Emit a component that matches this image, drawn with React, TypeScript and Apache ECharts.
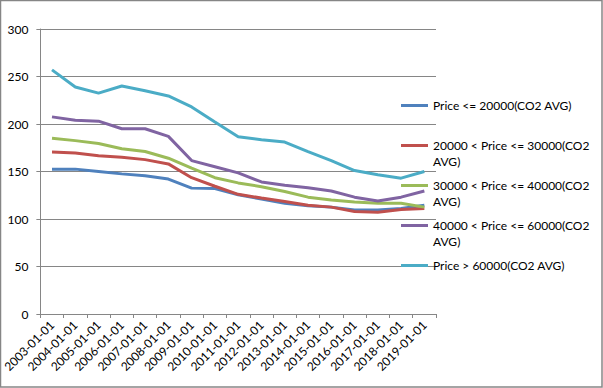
import React, { useEffect, useRef } from "react";
import * as echarts from "echarts";

const categories = [
  "2003-01-01", "2004-01-01", "2005-01-01", "2006-01-01", "2007-01-01", "2008-01-01",
  "2009-01-01", "2010-01-01", "2011-01-01", "2012-01-01", "2013-01-01", "2014-01-01",
  "2015-01-01", "2016-01-01", "2017-01-01", "2018-01-01", "2019-01-01",
];

const seriesNames = [
  "Price <= 20000(CO2 AVG)",
  "20000 < Price <= 30000(CO2 AVG)",
  "30000 < Price <= 40000(CO2 AVG)",
  "40000 < Price <= 60000(CO2 AVG)",
  "Price > 60000(CO2 AVG)",
];

const priceLe20000 = [152.5, 152.5, 150, 147.5, 145.5, 142, 132.5, 132, 125.5, 121, 116.5, 114, 112.5, 109.5, 109.5, 111, 114.5];
const price20to30 = [170.5, 169.5, 166.5, 165, 162.5, 158, 143.5, 134.5, 126, 122, 118.5, 114.5, 112.5, 108, 107, 110, 111];
const price30to40 = [185, 182.5, 179.5, 174, 171, 164, 153.5, 143.5, 138, 134, 129, 123, 120, 118, 116.5, 116.5, 112.5];
const price40to60 = [207.5, 204, 203, 195, 195, 187, 161.5, 155, 148.5, 139, 135.5, 133, 129.5, 123, 119, 123, 129.5];
const priceGt60000 = [257, 239, 232.5, 240, 235, 229.5, 218, 202, 186.5, 183.5, 181, 171, 161.5, 151, 146.5, 143, 150];

const yTicks = { min: 0, max: 300, interval: 50 };

const colors = ["#4F81BD", "#C0504D", "#9BBB59", "#8064A2", "#4BACC6"];

const FONT = "Lato";

export default function App() {
  const ref = useRef<HTMLDivElement>(null);

  useEffect(() => {
    if (!ref.current) return;
    const chart = echarts.init(ref.current, null, { renderer: "svg" });
    const values = [priceLe20000, price20to30, price30to40, price40to60, priceGt60000];
    const firstLine = (name: string) => {
      const idx = name.indexOf(" AVG)");
      return idx >= 0 && name.length > 26 ? name.slice(0, idx) : name;
    };
    chart.setOption({
      animation: false,
      color: colors,
      textStyle: { fontFamily: FONT },
      grid: { left: 39, top: 29, right: 167, bottom: 74, containLabel: false },
      legend: {
        orient: "vertical",
        left: 396,
        top: 92,
        itemGap: 23,
        itemWidth: 27,
        itemHeight: 3,
        icon: "rect",
        textStyle: { fontFamily: FONT, fontSize: 12, color: "#000", lineHeight: 17 },
        formatter: (name: string) => firstLine(name),
        data: seriesNames,
      },
      xAxis: {
        type: "category",
        data: categories,
        boundaryGap: true,
        axisLine: { lineStyle: { color: "#868686", width: 1 } },
        axisTick: { show: true, length: 4, inside: false, alignWithLabel: false, lineStyle: { color: "#868686" } },
        axisLabel: { interval: 0, rotate: 45, margin: 9, fontSize: 12, fontFamily: FONT, color: "#000" },
        splitLine: { show: false },
      },
      yAxis: {
        type: "value",
        min: yTicks.min,
        max: yTicks.max,
        interval: yTicks.interval,
        axisLine: { show: true, lineStyle: { color: "#868686", width: 1 } },
        axisTick: { show: true, length: 4, inside: false, lineStyle: { color: "#868686" } },
        axisLabel: { margin: 12, fontSize: 12, fontFamily: FONT, color: "#000" },
        splitLine: { show: true, lineStyle: { color: "#868686", width: 1 } },
      },
      series: seriesNames.map((name, i) => ({
        name,
        type: "line",
        data: values[i],
        symbol: "none",
        smooth: false,
        lineStyle: { width: 3, color: colors[i] },
        itemStyle: { color: colors[i] },
      })),
      graphic: [
        {
          type: "rect",
          shape: { x: 0.5, y: 0.5, width: 601.5, height: 386.5 },
          style: { fill: "none", stroke: "#868686", lineWidth: 1.5 },
          silent: true,
        },
        { type: "text", left: 433, top: 155, style: { text: "AVG)", fontFamily: FONT, fontSize: 12, fill: "#000" } },
        { type: "text", left: 433, top: 195, style: { text: "AVG)", fontFamily: FONT, fontSize: 12, fill: "#000" } },
        { type: "text", left: 433, top: 235, style: { text: "AVG)", fontFamily: FONT, fontSize: 12, fill: "#000" } },
      ],
    });
    return () => chart.dispose();
  }, []);

  return (
    <div
      ref={ref}
      style={{ position: "absolute", left: 0, top: 0, width: 603, height: 388, background: "#fff" }}
    />
  );
}
